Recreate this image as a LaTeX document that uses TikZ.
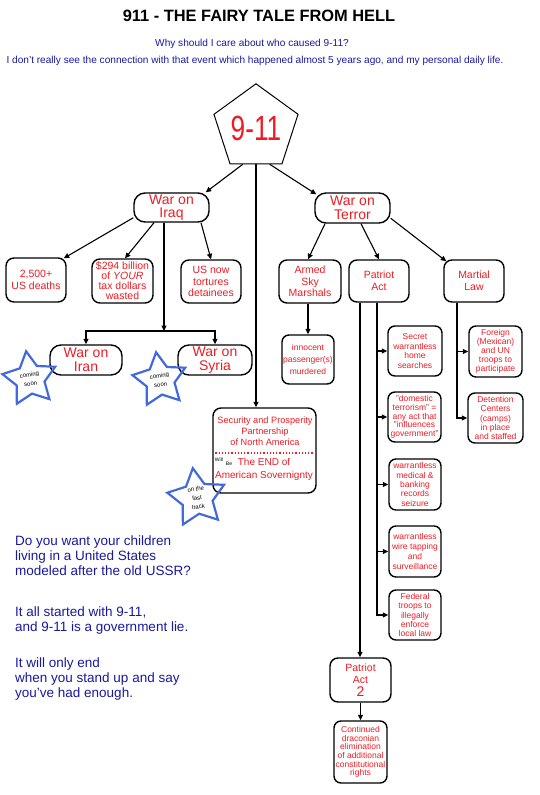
\documentclass[tikz,border=0pt]{standalone}
\usepackage{fontspec}
\setmainfont{Liberation Sans}
\usetikzlibrary{shapes.geometric, arrows.meta, calc}

\definecolor{warred}{RGB}{237,28,36}
\definecolor{navyblue}{RGB}{24,24,160}
\definecolor{starblue}{RGB}{66,106,222}

\begin{document}
\begin{tikzpicture}[
    x=1pt, y=-1pt,
    bigbox/.style={rectangle, rounded corners=11pt, draw, line width=1.4pt, text=warred, align=center, inner sep=0pt, font=\fontsize{14}{13.6}\selectfont},
    box/.style={rectangle, rounded corners=8pt, draw, line width=1.4pt, text=warred, align=center, inner sep=0pt, font=\fontsize{10.5}{11.7}\selectfont},
    smallbox/.style={box, rounded corners=7pt, font=\fontsize{8.5}{9.3}\selectfont},
    burst/.style={star, star points=5, star point ratio=1.9, draw=starblue, line width=2.2pt, minimum size=56pt, inner sep=0pt, align=center, font=\fontsize{6}{9}\selectfont},
    arr/.style={-{Triangle[length=5.5pt,width=5pt]}, line width=1.1pt},
    blurb/.style={anchor=west, align=left, text=navyblue, inner sep=0pt, font=\fontsize{13.5}{15}\selectfont},
  ]
  \useasboundingbox (0,0) rectangle (540,795);

  % heading
  \node[font=\bfseries\fontsize{16.4}{18}\selectfont] (title) at (259,16) {911 - THE FAIRY TALE FROM HELL};
  \node[text=navyblue, font=\fontsize{10.1}{12}\selectfont] (why) at (252,44) {Why should I care about who caused 9-11?};
  \node[text=navyblue, font=\fontsize{10.1}{12}\selectfont] (whyline) at (255,61) {I don't really see the connection with that event which happened almost 5 years ago, and my personal daily life.};

  % root
  \node[regular polygon, regular polygon sides=5, draw, line width=1pt, minimum size=80pt, inner sep=0pt, text=warred] (nine) at (256,128) {\fontsize{35}{35}\selectfont\scalebox{0.75}[1]{9-11}};

  % two wars
  \node[bigbox, minimum width=75pt, minimum height=29pt] (iraq) at (171.5,207.5) {War on\\Iraq};
  \node[bigbox, minimum width=75pt, minimum height=30pt] (terror) at (352.5,208) {War on\\Terror};

  \node[box, minimum width=60pt, minimum height=44pt] (deaths) at (36,280) {2,500+\\US deaths};
  \node[box, minimum width=61pt, minimum height=44pt, font=\fontsize{10.5}{10}\selectfont] (billions) at (122.5,281) {\$294 billion\\of \textit{YOUR}\\tax dollars\\wasted};
  \node[box, minimum width=60pt, minimum height=43pt] (tortures) at (211,281.5) {US now\\tortures\\detainees};
  \node[bigbox, minimum width=72pt, minimum height=30pt] (iran) at (86,360) {War on\\Iran};
  \node[bigbox, minimum width=74pt, minimum height=30pt] (syria) at (215,360) {War on\\Syria};

  \node[box, minimum width=62pt, minimum height=43pt] (marshals) at (310,281.5) {Armed\\Sky\\Marshals};
  \node[box, minimum width=60pt, minimum height=42pt] (patriot) at (379,281) {Patriot\\Act};
  \node[box, minimum width=60pt, minimum height=42pt] (martial) at (474,281) {Martial\\Law};
  \node[smallbox, minimum width=52pt, minimum height=49pt, font=\fontsize{8.5}{11.7}\selectfont] (innocent) at (308,359.5) {innocent\\passenger(s)\\murdered};

  % patriot act column
  \node[smallbox, minimum width=54pt, minimum height=50pt, font=\fontsize{8.5}{9.6}\selectfont] (secret) at (415,351) {Secret\\warrantless\\home\\searches};
  \node[smallbox, minimum width=53pt, minimum height=50pt, font=\fontsize{8.5}{8.7}\selectfont] (domestic) at (414.5,417) {"domestic\\terrorism" =\\any act that\\"influences\\government"};
  \node[smallbox, minimum width=52pt, minimum height=51pt] (medical) at (415,484.5) {warrantless\\medical \&\\banking\\records\\seizure};
  \node[smallbox, minimum width=52pt, minimum height=51pt, font=\fontsize{8.5}{9.7}\selectfont] (wiretap) at (415,551.5) {warrantless\\wire tapping\\and\\surveillance};
  \node[smallbox, minimum width=52pt, minimum height=50pt] (federal) at (415,615) {Federal\\troops to\\illegally\\enforce\\local law};
  \node[box, minimum width=61pt, minimum height=44pt] (pa2) at (360.5,680) {Patriot\\Act\\[1pt]{\fontsize{14}{14}\selectfont 2}};
  \node[smallbox, minimum width=53pt, minimum height=62pt, font=\fontsize{8.5}{8.6}\selectfont] (draconian) at (360.5,752) {Continued\\draconian\\elimination\\of additional\\constitutional\\rights};

  % martial law column
  \node[smallbox, minimum width=53pt, minimum height=51pt, font=\fontsize{8.5}{9}\selectfont] (foreign) at (495.5,351.5) {Foreign\\(Mexican)\\and UN\\troops to\\participate};
  \node[smallbox, minimum width=55pt, minimum height=50pt] (detention) at (495.5,418) {Detention\\Centers\\(camps)\\in place\\and staffed};

  % SPP
  \node[box, minimum width=103pt, minimum height=85pt] (spp) at (264.5,450.5) {};
  \node[text=warred, align=center, inner sep=0pt, font=\fontsize{9.2}{10.8}\selectfont] (spptext) at (265,431) {Security and Prosperity\\Partnership\\of North America};
  \draw[warred, dotted, line width=1.2pt] ($(spp.west)+(3,2.5)$) -- ($(spp.east)+(-3,2.5)$);
  \node[text=warred, align=center, inner sep=0pt, font=\fontsize{10}{13}\selectfont] (sppend) at (264,469.5) {The END of\\American Sovernignty};
  \node[inner sep=0pt, font=\fontsize{5}{5}\selectfont] (will) at (219,460) {Will};
  \node[inner sep=0pt, font=\fontsize{5}{5}\selectfont] (be) at (229,464) {Be};

  % connectors
  \coordinate (ninebase) at (nine.side 3);
  \draw[arr] ($(nine.corner 3)!0.25!(nine.corner 4)$) -- ([xshift=-4pt]iraq.north east);
  \draw[arr] ($(nine.corner 3)!0.76!(nine.corner 4)$) -- ([xshift=2pt,yshift=-2pt]terror.north west);
  \draw[arr] (ninebase) -- (ninebase |- spp.north);

  \draw[arr] (iraq.195) -- ([xshift=-3pt,yshift=-1pt]deaths.north east);
  \draw[arr] ([xshift=-17.5pt]iraq.south) -- ([xshift=2.5pt]billions.north);
  \draw[arr] ([xshift=29.5pt]iraq.south) -- (tortures.north);
  \coordinate (iraqdrop) at ($(iraq.south)+(-7.5,0)$);
  \coordinate (fork) at (164,331);
  \draw[arr] (iraqdrop) -- (fork);
  \draw[arr] (fork) -| (iran.north);
  \draw[arr] (fork) -| (syria.north);

  \draw[arr] ([xshift=-27.5pt]terror.south) -- ([xshift=-2pt]marshals.north);
  \draw[arr] ([xshift=8.5pt]terror.south) -- (patriot.north);
  \draw[arr] (terror.-15) -- ([xshift=3pt,yshift=-2pt]martial.north west);
  \draw[arr] (marshals.south -| innocent.north) -- (innocent.north);

  \coordinate (pa-left) at ($(patriot.south)+(-19,0)$);
  \coordinate (pa-right) at ($(patriot.south)+(-2,0)$);
  \draw[arr] (pa-left) -- (pa-left |- pa2.north);
  \foreach \act in {secret, domestic, medical, wiretap, federal}
    \draw[arr] (pa-right) |- (\act.west);
  \draw[arr] (pa2.south) -- (draconian.north);

  \coordinate (ml-drop) at ($(martial.south)+(-17,0)$);
  \foreach \camp in {foreign, detention}
    \draw[arr] (ml-drop) |- (\camp.west);

  % stars
  \node[burst, rotate=8] (soon-iran) at (30,379) {coming\\soon};
  \node[burst, rotate=8] (soon-syria) at (160,380) {coming\\soon};
  \node[burst, rotate=8] (fasttrack) at (197,498) {on the\\fast\\track};

  % closing text
  \node[blurb] (children) at (15,555.5) {Do you want your children\\living in a United States\\modeled after the old USSR?};
  \node[blurb] (started) at (15,620.5) {It all started with 9-11,\\and 9-11 is a government lie.};
  \node[blurb] (enough) at (15,679.5) {It will only end\\when you stand up and say\\you've had enough.};
\end{tikzpicture}
\end{document}
